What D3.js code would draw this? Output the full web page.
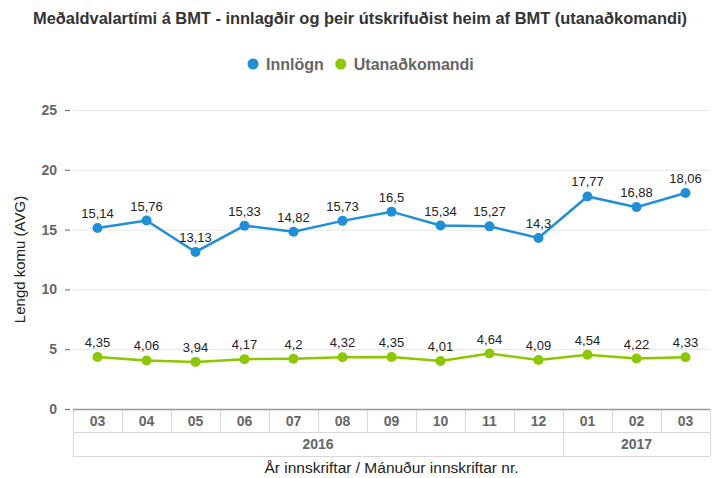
<!DOCTYPE html>
<html>
<head>
<meta charset="utf-8">
<script src="https://cdn.jsdelivr.net/npm/d3@7"></script>
<style>
  body { margin: 0; background: #fff; }
  svg { font-family: "Liberation Sans", Arial, sans-serif; }
</style>
</head>
<body>
<div id="container"></div>
<script>
var width = 720, height = 478;

// gögnin
var months = ["03", "04", "05", "06", "07", "08", "09", "10", "11", "12", "01", "02", "03"];
var years = ["2016", "2017"];
var yearSpan = [10, 3]; // fjöldi mánaða á hverju ári
var innlogn = [15.14, 15.76, 13.13, 15.33, 14.82, 15.73, 16.5, 15.34, 15.27, 14.3, 17.77, 16.88, 18.06];
var utanadkomandi = [4.35, 4.06, 3.94, 4.17, 4.2, 4.32, 4.35, 4.01, 4.64, 4.09, 4.54, 4.22, 4.33];
var yTicks = [0, 5, 10, 15, 20, 25];

var series = [
    { name: "Innlögn", values: innlogn, color: "#1f8fd8" },
    { name: "Utanaðkomandi", values: utanadkomandi, color: "#8cc800" }
];

var margin = { left: 73, right: 10, top: 110, bottom: 69 };

var svg = d3.select("#container")
    .append("svg")
    .attr("width", width)
    .attr("height", height);

var x = d3.scaleBand()
    .domain(d3.range(months.length))
    .range([margin.left, width - margin.right]);

var y = d3.scaleLinear()
    .domain([0, 25])
    .range([height - margin.bottom, margin.top]);

var fmt = function(v) { return String(v).replace(".", ","); };

// titill
svg.append("text")
    .attr("x", width / 2)
    .attr("y", 24)
    .attr("text-anchor", "middle")
    .attr("textLength", 654)
    .attr("lengthAdjust", "spacingAndGlyphs")
    .style("font-size", "16px")
    .style("font-weight", "bold")
    .style("fill", "#333")
    .text("Meðaldvalartími á BMT - innlagðir og þeir útskrifuðist heim af BMT (utanaðkomandi)");

// skýringar
var legend = svg.append("g").attr("transform", "translate(253,64)");
var lx = 0;
series.forEach(function(s) {
    var item = legend.append("g").attr("transform", "translate(" + lx + ",0)");
    item.append("circle").attr("r", 5.5).attr("fill", s.color);
    var t = item.append("text")
        .attr("x", 13)
        .attr("dy", "0.35em")
        .style("font-size", "16px")
        .style("font-weight", "bold")
        .style("fill", "#666")
        .text(s.name);
    lx += 13 + t.node().getComputedTextLength() + 17;
});

// y ás
var yAxis = svg.append("g");
yAxis.selectAll("line.grid")
    .data(yTicks.filter(function(d) { return d > 0; }))
    .enter().append("line")
    .attr("x1", margin.left).attr("x2", width - margin.right)
    .attr("y1", function(d) { return y(d) + 0.5; }).attr("y2", function(d) { return y(d) + 0.5; })
    .attr("stroke", "#e6e6e6");
yAxis.selectAll("line.tick")
    .data(yTicks)
    .enter().append("line")
    .attr("x1", 65).attr("x2", 70)
    .attr("y1", function(d) { return y(d) + 0.5; }).attr("y2", function(d) { return y(d) + 0.5; })
    .attr("stroke", "#666");
yAxis.selectAll("text")
    .data(yTicks)
    .enter().append("text")
    .attr("x", 57)
    .attr("y", function(d) { return y(d); })
    .attr("dy", "0.35em")
    .attr("text-anchor", "end")
    .style("font-size", "14px")
    .style("font-weight", "bold")
    .style("fill", "#666")
    .text(function(d) { return d; });

svg.append("text")
    .attr("transform", "translate(25," + ((margin.top + height - margin.bottom) / 2) + ") rotate(-90)")
    .attr("text-anchor", "middle")
    .style("font-size", "15px")
    .style("fill", "#222")
    .text("Lengd komu (AVG)");

// x ás - tafla
var row1 = y(0), row2 = row1 + 23, row3 = row2 + 24;
var xg = svg.append("g");
var x0 = x.range()[0], x1 = x.range()[1];
xg.append("line").attr("x1", x0).attr("x2", x1).attr("y1", row2 + 0.5).attr("y2", row2 + 0.5).attr("stroke", "#d8d8d8");
xg.append("line").attr("x1", x0).attr("x2", x1).attr("y1", row3 + 0.5).attr("y2", row3 + 0.5).attr("stroke", "#d8d8d8");
xg.selectAll("line.v")
    .data(d3.range(months.length + 1))
    .enter().append("line")
    .attr("x1", function(i) { return Math.round(x0 + i * x.bandwidth()) + 0.5; })
    .attr("x2", function(i) { return Math.round(x0 + i * x.bandwidth()) + 0.5; })
    .attr("y1", row1)
    .attr("y2", function(i) { return (i === 0 || i === 10 || i === months.length) ? row3 : row2; })
    .attr("stroke", "#d8d8d8");
xg.selectAll("text.m")
    .data(months)
    .enter().append("text")
    .attr("x", function(d, i) { return x(i) + x.bandwidth() / 2; })
    .attr("y", row1 + 12)
    .attr("dy", "0.35em")
    .attr("text-anchor", "middle")
    .style("font-size", "14px")
    .style("font-weight", "bold")
    .style("fill", "#666")
    .text(function(d) { return d; });
var start = 0;
years.forEach(function(yr, k) {
    var a = x(start), b = x(start + yearSpan[k] - 1) + x.bandwidth();
    xg.append("text")
        .attr("x", (a + b) / 2)
        .attr("y", row2 + 12)
        .attr("dy", "0.35em")
        .attr("text-anchor", "middle")
        .style("font-size", "14px")
        .style("font-weight", "bold")
        .style("fill", "#666")
        .text(yr);
    start += yearSpan[k];
});
xg.append("line").attr("x1", x0).attr("x2", x1).attr("y1", row1 + 0.5).attr("y2", row1 + 0.5).attr("stroke", "#999").attr("stroke-width", 1.5);

svg.append("text")
    .attr("x", (x0 + x1) / 2)
    .attr("y", 473)
    .attr("text-anchor", "middle")
    .style("font-size", "15.5px")
    .style("fill", "#222")
    .text("År innskriftar / Mánuður innskriftar nr.");

// línur
var line = d3.line()
    .x(function(d, i) { return x(i) + x.bandwidth() / 2; })
    .y(function(d) { return y(d); });

series.forEach(function(s) {
    var g = svg.append("g");
    g.append("path")
        .attr("d", line(s.values))
        .attr("fill", "none")
        .attr("stroke", s.color)
        .attr("stroke-width", 2.5);
    g.selectAll("circle")
        .data(s.values)
        .enter().append("circle")
        .attr("cx", function(d, i) { return x(i) + x.bandwidth() / 2; })
        .attr("cy", function(d) { return y(d); })
        .attr("r", 5)
        .attr("fill", s.color);
    g.selectAll("text")
        .data(s.values)
        .enter().append("text")
        .attr("x", function(d, i) { return x(i) + x.bandwidth() / 2; })
        .attr("y", function(d) { return y(d) - 10; })
        .attr("text-anchor", "middle")
        .style("font-size", "13px")
        .style("fill", "#222")
        .text(function(d) { return fmt(d); });
});
</script>
</body>
</html>
